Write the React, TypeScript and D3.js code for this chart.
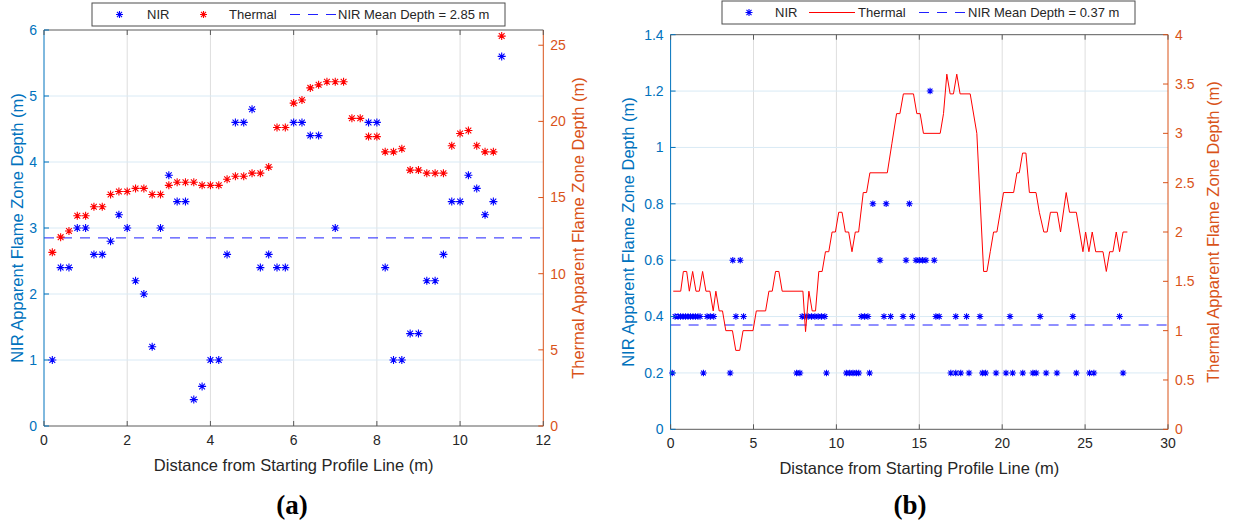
import React from "react";
import * as d3 from "d3";

// ---------- Panel (a) data ----------
const A_NIR_X = [0.2,0.4,0.6,0.8,1.0,1.2,1.4,1.6,1.8,2.0,2.2,2.4,2.6,2.8,3.0,3.2,3.4,3.6,3.8,4.0,4.2,4.4,4.6,4.8,5.0,5.2,5.4,5.6,5.8,6.0,6.2,6.4,6.6,7.0,7.8,8.0,8.2,8.4,8.6,8.8,9.0,9.2,9.4,9.6,9.8,10.0,10.2,10.4,10.6,10.8,11.0];
const A_NIR_Y = [1.0,2.4,2.4,3.0,3.0,2.6,2.6,2.8,3.2,3.0,2.2,2.0,1.2,3.0,3.8,3.4,3.4,0.4,0.6,1.0,1.0,2.6,4.6,4.6,4.8,2.4,2.6,2.4,2.4,4.6,4.6,4.4,4.4,3.0,4.6,4.6,2.4,1.0,1.0,1.4,1.4,2.2,2.2,2.6,3.4,3.4,3.8,3.6,3.2,3.4,5.6];
const A_TH_X = [0.2,0.4,0.6,0.8,1.0,1.2,1.4,1.6,1.8,2.0,2.2,2.4,2.6,2.8,3.0,3.2,3.4,3.6,3.8,4.0,4.2,4.4,4.6,4.8,5.0,5.2,5.4,5.6,5.8,6.0,6.2,6.4,6.6,6.8,7.0,7.2,7.4,7.6,7.8,8.0,8.2,8.4,8.6,8.8,9.0,9.2,9.4,9.6,9.8,10.0,10.2,10.4,10.6,10.8,11.0];
const A_TH_Y = [11.4,12.4,12.8,13.8,13.8,14.4,14.4,15.2,15.4,15.4,15.6,15.6,15.2,15.2,15.8,16.0,16.0,16.0,15.8,15.8,15.8,16.2,16.4,16.4,16.6,16.6,17.0,19.6,19.6,21.2,21.4,22.2,22.4,22.6,22.6,22.6,20.2,20.2,19.0,19.0,18.0,18.0,18.2,16.8,16.8,16.6,16.6,16.6,18.4,19.2,19.4,18.4,18.0,18.0,25.6];
const A_MEAN = 2.85;
const A_XTICKS = [0,2,4,6,8,10,12];
const A_YTICKS = [0,1,2,3,4,5,6];
const A_Y2TICKS = [0,5,10,15,20,25];

// ---------- Panel (b) data ----------
const B_NIR_X = [
  15.65,
  12.2,13.0,14.4,
  3.75,4.2,12.63,14.2,14.8,15.0,15.2,15.4,15.9,
  0.27,0.45,0.6,0.75,0.9,1.05,1.2,1.35,1.5,1.65,1.78,2.2,2.4,2.6,3.94,4.4,7.93,8.1,8.3,8.5,8.7,8.9,9.1,9.3,11.5,11.7,11.9,12.87,13.27,14.02,14.58,16.0,16.2,17.2,17.85,18.66,20.47,22.29,24.26,27.08,
  0.1,1.98,3.59,7.6,7.8,9.4,10.6,10.8,11.0,11.2,11.35,12.0,16.9,17.2,17.5,18.0,18.8,19.0,19.63,20.23,20.63,21.24,21.85,22.05,22.65,23.3,24.47,25.27,25.53,27.29
];
const B_NIR_Y = [
  1.2,
  0.8,0.8,0.8,
  0.6,0.6,0.6,0.6,0.6,0.6,0.6,0.6,0.6,
  0.4,0.4,0.4,0.4,0.4,0.4,0.4,0.4,0.4,0.4,0.4,0.4,0.4,0.4,0.4,0.4,0.4,0.4,0.4,0.4,0.4,0.4,0.4,0.4,0.4,0.4,0.4,0.4,0.4,0.4,0.4,0.4,0.4,0.4,0.4,0.4,0.4,0.4,0.4,0.4,
  0.2,0.2,0.2,0.2,0.2,0.2,0.2,0.2,0.2,0.2,0.2,0.2,0.2,0.2,0.2,0.2,0.2,0.2,0.2,0.2,0.2,0.2,0.2,0.2,0.2,0.2,0.2,0.2,0.2,0.2
];
const B_TH_X = [0.16,0.61,0.77,0.97,1.13,1.33,1.53,1.73,1.93,2.13,2.37,2.57,2.73,2.93,3.13,3.33,3.73,3.93,4.17,4.37,4.97,5.17,5.73,5.93,6.13,6.33,6.53,6.73,7.98,8.14,8.34,8.54,8.74,8.94,9.14,9.34,9.54,9.74,9.94,10.14,10.34,10.54,10.74,10.94,11.14,11.34,11.62,11.82,12.02,13.07,13.35,13.63,13.83,14.04,14.65,14.85,15.05,15.25,16.26,16.46,16.66,16.86,17.06,17.26,17.46,18.07,18.47,18.88,19.08,19.28,19.48,19.68,19.88,20.08,20.69,20.89,21.03,21.23,21.43,21.64,22.04,22.24,22.51,22.71,22.91,23.32,23.52,23.86,24.06,24.47,24.87,25.03,25.23,25.43,25.64,26.08,26.28,26.48,26.68,26.88,27.08,27.29,27.55];
const B_TH_Y = [1.4,1.4,1.6,1.6,1.4,1.6,1.4,1.4,1.6,1.4,1.4,1.2,1.4,1.2,1.2,1.0,1.0,0.8,0.8,1.0,1.0,1.2,1.2,1.4,1.4,1.6,1.6,1.4,1.4,0.99,1.4,1.2,1.2,1.6,1.6,1.8,1.8,2.0,2.0,2.2,2.2,2.0,2.0,1.8,2.0,2.0,2.4,2.4,2.6,2.6,2.9,3.2,3.2,3.4,3.4,3.2,3.2,3.0,3.0,3.2,3.6,3.4,3.4,3.6,3.4,3.4,3.0,1.6,1.6,1.8,2.0,2.0,2.2,2.4,2.4,2.6,2.6,2.8,2.8,2.4,2.4,2.2,2.0,2.0,2.2,2.2,2.0,2.4,2.2,2.2,1.8,2.0,1.8,2.0,1.8,1.8,1.6,1.8,1.8,2.0,1.8,2.0,2.0];
const B_MEAN = 0.37;
const B_XTICKS = [0,5,10,15,20,25,30];
const B_YTICKS = [0,0.2,0.4,0.6,0.8,1,1.2,1.4];
const B_YTICK_LABELS = ["0","0.2","0.4","0.6","0.8","1","1.2","1.4"];
const B_Y2TICKS = [0,0.5,1,1.5,2,2.5,3,3.5,4];
const B_Y2TICK_LABELS = ["0","0.5","1","1.5","2","2.5","3","3.5","4"];

const BLUE_AX = "#0072BD";
const ORANGE_AX = "#D95319";
const DARK = "#262626";
const FONT = "'Liberation Sans', Arial, sans-serif";

function star(cx: number, cy: number, r: number) {
  const d = r * 0.72;
  return `M${cx - r},${cy}H${cx + r}M${cx},${cy - r}V${cy + r}M${cx - d},${cy - d}L${cx + d},${cy + d}M${cx - d},${cy + d}L${cx + d},${cy - d}`;
}

type PanelProps = {
  x0: number; x1: number; yTop: number; yBot: number;
  xDomain: [number, number]; yDomain: [number, number]; y2Domain: [number, number];
  xTicks: number[]; yTicks: number[]; yTickLabels: string[]; y2Ticks: number[]; y2TickLabels: string[];
  nirX: number[]; nirY: number[]; thX: number[]; thY: number[]; thLine: boolean; mean: number;
  markerR: number; yLabelX: number; y2LabelX: number; title: string; titleX: number;
  legend: { x0: number; x1: number; y0: number; y1: number; items: number[]; meanText: string };
};

function Panel(p: PanelProps) {
  const xs = d3.scaleLinear().domain(p.xDomain).range([p.x0, p.x1]);
  const ys = d3.scaleLinear().domain(p.yDomain).range([p.yBot, p.yTop]);
  const y2 = d3.scaleLinear().domain(p.y2Domain).range([p.yBot, p.yTop]);
  const cxMid = (p.x0 + p.x1) / 2;
  const cyMid = (p.yTop + p.yBot) / 2;
  const line = d3.line<number>().x((_, i) => xs(p.thX[i])).y((v) => y2(v));
  const L = p.legend;
  const lm = (L.y0 + L.y1) / 2;
  return (
    <g>
      {/* grid */}
      {p.xTicks.slice(1, -1).map((t) => (
        <line key={"gx" + t} x1={xs(t)} x2={xs(t)} y1={p.yTop} y2={p.yBot} stroke="#dedede" strokeWidth={1} />
      ))}
      {p.yTicks.slice(1, -1).map((t) => (
        <line key={"gy" + t} x1={p.x0} x2={p.x1} y1={ys(t)} y2={ys(t)} stroke="#d9eaf5" strokeWidth={1} />
      ))}
      {/* mean line */}
      <line x1={p.x0} x2={p.x1} y1={ys(p.mean)} y2={ys(p.mean)} stroke="#2020ff" strokeWidth={1} strokeDasharray="10,8" />
      {/* NIR */}
      <path d={p.nirX.map((x, i) => star(xs(x), ys(p.nirY[i]), p.markerR)).join("")} stroke="#0000ff" strokeWidth={1.1} fill="none" />
      {/* Thermal */}
      {p.thLine ? (
        <path d={line(p.thY) || ""} stroke="#ff0000" strokeWidth={1} fill="none" />
      ) : (
        <path d={p.thX.map((x, i) => star(xs(x), y2(p.thY[i]), p.markerR)).join("")} stroke="#ff0000" strokeWidth={1.1} fill="none" />
      )}
      {/* axes box */}
      <line x1={p.x0} x2={p.x1} y1={p.yBot} y2={p.yBot} stroke="#5a5a5a" strokeWidth={1} />
      <line x1={p.x0} x2={p.x1} y1={p.yTop} y2={p.yTop} stroke="#5a5a5a" strokeWidth={1} />
      <line x1={p.x0} x2={p.x0} y1={p.yTop} y2={p.yBot} stroke={BLUE_AX} strokeWidth={1} />
      <line x1={p.x1} x2={p.x1} y1={p.yTop} y2={p.yBot} stroke={ORANGE_AX} strokeWidth={1} />
      {/* x ticks */}
      {p.xTicks.map((t) => (
        <g key={"xt" + t}>
          <line x1={xs(t)} x2={xs(t)} y1={p.yBot} y2={p.yBot - 5} stroke="#5a5a5a" />
          <line x1={xs(t)} x2={xs(t)} y1={p.yTop} y2={p.yTop + 5} stroke="#5a5a5a" />
          <text x={xs(t)} y={p.yBot + 19} textAnchor="middle" fontSize={14} fill={DARK} fontFamily={FONT}>{t}</text>
        </g>
      ))}
      {p.yTicks.map((t, i) => (
        <g key={"yt" + t}>
          <line x1={p.x0} x2={p.x0 + 5} y1={ys(t)} y2={ys(t)} stroke={BLUE_AX} />
          <text x={p.x0 - 7} y={ys(t)} dy="0.35em" textAnchor="end" fontSize={14} fill={BLUE_AX} fontFamily={FONT}>{p.yTickLabels[i]}</text>
        </g>
      ))}
      {p.y2Ticks.map((t, i) => (
        <g key={"y2t" + t}>
          <line x1={p.x1} x2={p.x1 - 5} y1={y2(t)} y2={y2(t)} stroke={ORANGE_AX} />
          <text x={p.x1 + 7} y={y2(t)} dy="0.35em" textAnchor="start" fontSize={14} fill={ORANGE_AX} fontFamily={FONT}>{p.y2TickLabels[i]}</text>
        </g>
      ))}
      {/* axis labels */}
      <text x={cxMid} y={p.yBot + 45} textAnchor="middle" fontSize={16.5} fill={DARK} fontFamily={FONT}>Distance from Starting Profile Line (m)</text>
      <text transform={`translate(${p.yLabelX},${cyMid}) rotate(-90)`} textAnchor="middle" dy="0.35em" fontSize={16.5} fill={BLUE_AX} fontFamily={FONT}>NIR Apparent Flame Zone Depth (m)</text>
      <text transform={`translate(${p.y2LabelX},${cyMid}) rotate(-90)`} textAnchor="middle" dy="0.35em" fontSize={16.5} fill={ORANGE_AX} fontFamily={FONT}>Thermal Apparent Flame Zone Depth (m)</text>
      {/* title */}
      <text x={p.titleX} y={514} textAnchor="middle" fontSize={27} fontWeight="bold" fill="#000" fontFamily="'Liberation Serif', 'Times New Roman', serif">{p.title}</text>
      {/* legend */}
      <rect x={L.x0} y={L.y0} width={L.x1 - L.x0} height={L.y1 - L.y0} fill="#fff" stroke="#4d4d4d" strokeWidth={1} />
      <path d={star(L.items[0], lm, 3.5)} stroke="#0000ff" strokeWidth={1.1} fill="none" />
      <text x={L.items[1]} y={lm} dy="0.35em" fontSize={13} fill={DARK} fontFamily={FONT}>NIR</text>
      {p.thLine ? (
        <line x1={L.items[2] - 23} x2={L.items[2] + 23} y1={lm} y2={lm} stroke="#ff0000" strokeWidth={1} />
      ) : (
        <path d={star(L.items[2], lm, 3.5)} stroke="#ff0000" strokeWidth={1.1} fill="none" />
      )}
      <text x={L.items[3]} y={lm} dy="0.35em" fontSize={13} fill={DARK} fontFamily={FONT}>Thermal</text>
      <line x1={L.items[4]} x2={L.items[4] + 46} y1={lm} y2={lm} stroke="#2020ff" strokeWidth={1} strokeDasharray="10,8" />
      <text x={L.items[5]} y={lm} dy="0.35em" fontSize={13} fill={DARK} fontFamily={FONT}>{L.meanText}</text>
    </g>
  );
}

export default function App() {
  return (
    <svg width={1233} height={527} style={{ position: "absolute", left: 0, top: 0, background: "#fff" }}>
      <rect x={0} y={0} width={1233} height={527} fill="#fff" />
      <Panel
        x0={44} x1={543.3} yTop={30} yBot={426}
        xDomain={[0, 12]} yDomain={[0, 6]} y2Domain={[0, 26]}
        xTicks={A_XTICKS} yTicks={A_YTICKS} yTickLabels={A_YTICKS.map(String)}
        y2Ticks={A_Y2TICKS} y2TickLabels={A_Y2TICKS.map(String)}
        nirX={A_NIR_X} nirY={A_NIR_Y} thX={A_TH_X} thY={A_TH_Y} thLine={false} mean={A_MEAN}
        markerR={4} yLabelX={17} y2LabelX={578} title="(a)" titleX={292}
        legend={{ x0: 92, x1: 505, y0: 3, y1: 26, items: [119.5, 147, 203.5, 229, 290, 338], meanText: "NIR Mean Depth = 2.85 m" }}
      />
      <Panel
        x0={670.6} x1={1168} yTop={34.7} yBot={429.3}
        xDomain={[0, 30]} yDomain={[0, 1.4]} y2Domain={[0, 4]}
        xTicks={B_XTICKS} yTicks={B_YTICKS} yTickLabels={B_YTICK_LABELS}
        y2Ticks={B_Y2TICKS} y2TickLabels={B_Y2TICK_LABELS}
        nirX={B_NIR_X} nirY={B_NIR_Y} thX={B_TH_X} thY={B_TH_Y} thLine={true} mean={B_MEAN}
        markerR={3.3} yLabelX={628} y2LabelX={1213} title="(b)" titleX={910}
        legend={{ x0: 722, x1: 1135, y0: 1, y1: 24, items: [749, 775, 832, 858, 919, 968], meanText: "NIR Mean Depth = 0.37 m" }}
      />
    </svg>
  );
}
